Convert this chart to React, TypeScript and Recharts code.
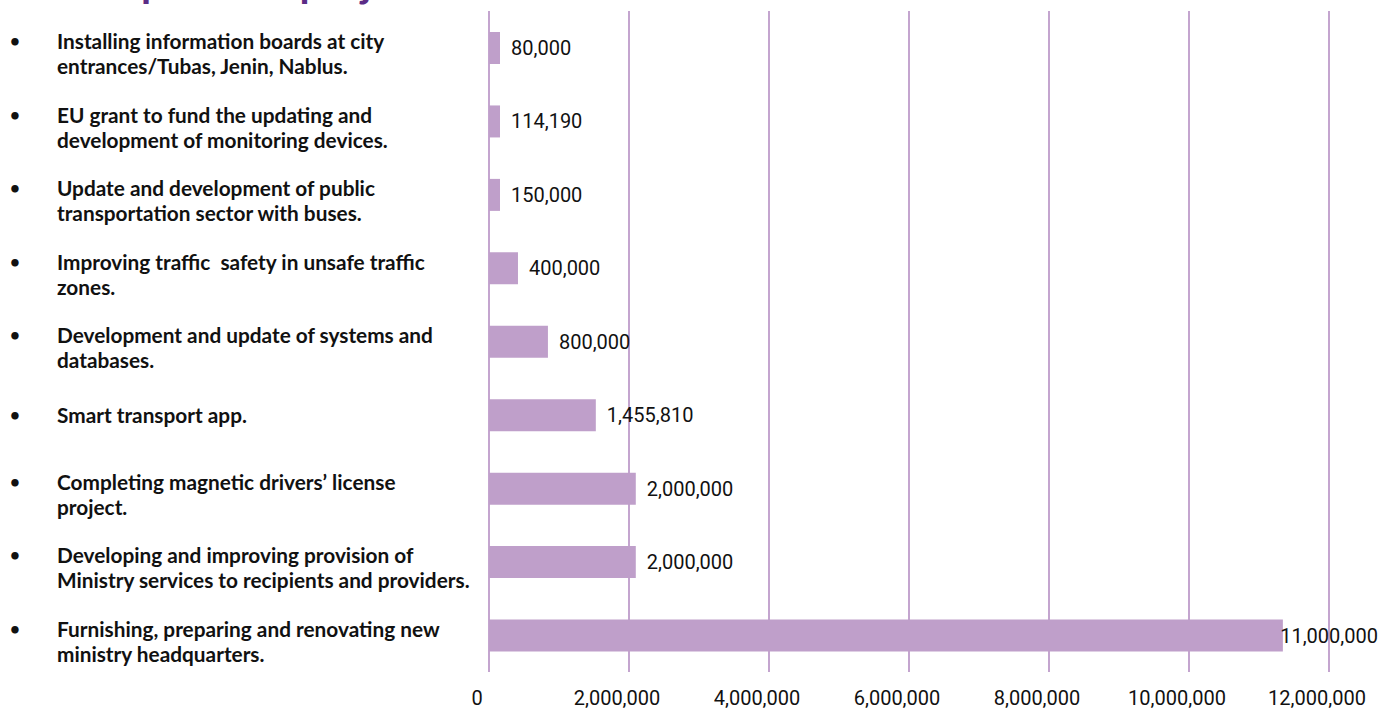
import React from "react";
import { BarChart, Bar, XAxis, YAxis, CartesianGrid, LabelList } from "recharts";

// project descriptions, one entry per row (already split into the lines shown)
const projects: string[][] = [
  ["Installing information boards at city", "entrances/Tubas, Jenin, Nablus."],
  ["EU grant to fund the updating and", "development of monitoring devices."],
  ["Update and development of public", "transportation sector with buses."],
  ["Improving traffic  safety in unsafe traffic", "zones."],
  ["Development and update of systems and", "databases."],
  ["Smart transport app."],
  ["Completing magnetic drivers\u2019 license", "project."],
  ["Developing and improving provision of", "Ministry services to recipients and providers."],
  ["Furnishing, preparing and renovating new", "ministry headquarters."],
];

// bar lengths as drawn in the picture
const barLengths = [157000, 157000, 157000, 414000, 842000, 1526000, 2097000, 2097000, 11341000];

// amounts printed next to the bars
const amountLabels = ["80,000", "114,190", "150,000", "400,000", "800,000", "1,455,810", "2,000,000", "2,000,000", "11,000,000"];

const xTicks = [0, 2000000, 4000000, 6000000, 8000000, 10000000, 12000000];

const W = 1382;
const H = 710;
const BAR = "#bf9fca";
const GRID = "#c4a5cf";

const data = projects.map((lines, i) => ({
  id: String(i),
  value: barLengths[i],
  label: amountLabels[i],
}));

function ProjectTick({ y, payload }: any) {
  const lines = projects[Number(payload.value)];
  const font = { fontFamily: "Lato", fontWeight: 700, fontSize: 20.8, fill: "#111" };
  const top = lines.length === 1 ? y : y - 7;
  return (
    <g>
      <text x={10} y={top} dominantBaseline="central" {...font} fontSize={17}>•</text>
      {lines.map((l, i) => (
        <text key={i} x={57} y={top + i * 25} dominantBaseline="central" style={{ whiteSpace: "pre" }} {...font}>
          {l}
        </text>
      ))}
    </g>
  );
}

function AmountTick({ x, y, payload }: any) {
  return (
    <text x={x - 12} y={y + 18} textAnchor="middle" dominantBaseline="central" fontFamily="Roboto" fontSize={20} fill="#111">
      {Number(payload.value).toLocaleString("en-US")}
    </text>
  );
}

function AmountLabel({ x, y, width, height, index }: any) {
  const text = amountLabels[index];
  const end = x + width + 11 + text.length * 9.4;
  // keep the widest label inside the picture, like the reference does
  if (end > W - 4) {
    return (
      <text x={W - 4} y={y + height / 2} textAnchor="end" dominantBaseline="central" fontFamily="Roboto" fontSize={20} fill="#111">
        {text}
      </text>
    );
  }
  return (
    <text x={x + width + 11} y={y + height / 2} dominantBaseline="central" fontFamily="Roboto" fontSize={20} fill="#111">
      {text}
    </text>
  );
}

export default function App() {
  return (
    <div style={{ position: "absolute", left: 0, top: 0, width: W, height: H, overflow: "hidden", background: "#fff" }}>
      <div
        style={{
          position: "absolute",
          left: 12,
          top: -39,
          fontFamily: "Lato",
          fontWeight: 700,
          fontSize: 41,
          color: "#5b2c86",
          whiteSpace: "nowrap",
          lineHeight: "41px",
        }}
      >
        Developmental projects
      </div>
      <BarChart width={W} height={H} data={data} layout="vertical" margin={{ top: 11, right: 53, bottom: 0, left: 0 }} barSize={32}>
        <CartesianGrid horizontal={false} stroke={GRID} strokeWidth={2} />
        <XAxis
          type="number"
          domain={[0, 12000000]}
          ticks={xTicks}
          axisLine={false}
          tickLine={false}
          height={38}
          interval={0}
          tick={<AmountTick />}
        />
        <YAxis type="category" dataKey="id" width={489} axisLine={false} tickLine={false} interval={0} tick={<ProjectTick />} />
        <Bar dataKey="value" fill={BAR} isAnimationActive={false}>
          <LabelList dataKey="label" content={<AmountLabel />} />
        </Bar>
      </BarChart>
    </div>
  );
}
